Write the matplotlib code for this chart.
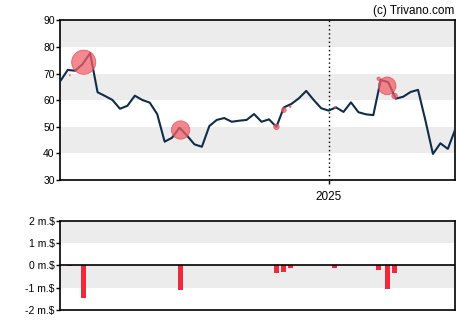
import matplotlib.pyplot as plt
import matplotlib.dates as mdates
import numpy as np
import pandas as pd

plt.rcParams["font.family"] = ["Liberation Sans", "DejaVu Sans"]

# weekly closing prices
start = "2024-04-24"
prices = [67.2, 71.4, 71.1, 73.6, 77.7, 63.0, 61.6, 60.1, 56.8, 57.9,
          61.7, 60.1, 59.1, 54.8, 44.4, 45.9, 49.7, 46.7, 43.4, 42.5,
          50.3, 52.6, 53.3, 51.9, 52.3, 52.6, 54.8, 51.9, 52.8, 50.0,
          57.3, 58.6, 60.7, 63.5, 60.1, 57.0, 56.1, 57.3, 55.6, 59.2,
          55.5, 54.7, 54.4, 67.6, 66.8, 60.6, 61.3, 63.1, 63.9, 52.3,
          39.8, 43.8, 41.7, 49.1]
dates = pd.date_range(start, periods=len(prices), freq="7D")

# insider trades: days after start, price paid, value in m.$
trade_days = [9, 22, 113, 203, 210, 216, 258, 299, 307, 314]
trade_prices = [69.4, 74.3, 48.8, 50.0, 56.3, 57.6, 57.3, 68.1, 65.4, 61.6]
trade_values = [-0.05, -1.45, -1.1, -0.33, -0.28, -0.1, -0.1, -0.2, -1.06, -0.33]
trade_dates = pd.to_datetime(start) + pd.to_timedelta(trade_days, unit="D")

line_color = "#0f2d4a"
band_color = "#ececec"
red = "#f0283c"

fig = plt.figure(figsize=(4.7, 3.25), dpi=100)
ax = fig.add_axes([0.1283, 0.4462, 0.8404, 0.4908])
ax2 = fig.add_axes([0.1283, 0.0462, 0.8404, 0.2748])

# price panel
for lo in [40, 60, 80]:
    ax.axhspan(lo, lo + 10, color=band_color, lw=0, zorder=0)
ax.plot(dates, prices, color=line_color, lw=1.5, zorder=3)
sizes = [(12 * abs(v)) ** 2 for v in trade_values]
ax.scatter(trade_dates, trade_prices, s=sizes, color="#f0606a", alpha=0.75,
           edgecolors="#e8404f", linewidths=0.6, zorder=4)
ax.axvline(pd.Timestamp("2025-01-01"), color="black", ls=(0, (1, 2)), lw=1, zorder=2)
ax.set_ylim(30, 90)
ax.set_yticks([30, 40, 50, 60, 70, 80, 90])
ax.set_xlim(dates[0], dates[-1])
ax.xaxis.set_major_locator(mdates.YearLocator())
ax.xaxis.set_major_formatter(mdates.DateFormatter("%Y"))

# insider trade value panel
ax2.axhspan(1, 2, color=band_color, lw=0, zorder=0)
ax2.axhspan(-1, 0, color=band_color, lw=0, zorder=0)
ax2.bar(trade_dates, trade_values, width=4.7, color=red, zorder=3)
ax2.axhline(0, color="black", lw=1.2, zorder=4)
ax2.set_ylim(-2, 2)
ax2.set_yticks([2, 1, 0, -1, -2])
ax2.set_yticklabels(["2 m.$", "1 m.$", "0 m.$", "-1 m.$", "-2 m.$"])
ax2.set_xlim(dates[0], dates[-1])
ax2.set_xticks([])

for a in [ax, ax2]:
    for s in a.spines.values():
        s.set_linewidth(1.2)
    a.tick_params(axis="y", length=3, width=1, labelsize=7.5, pad=1)
ax.tick_params(axis="x", length=3, width=1, labelsize=8.5, pad=5)

fig.text(0.966, 0.965, "(c) Trivano.com", ha="right", va="center", fontsize=8.5)

plt.savefig("out.png", dpi=100)
